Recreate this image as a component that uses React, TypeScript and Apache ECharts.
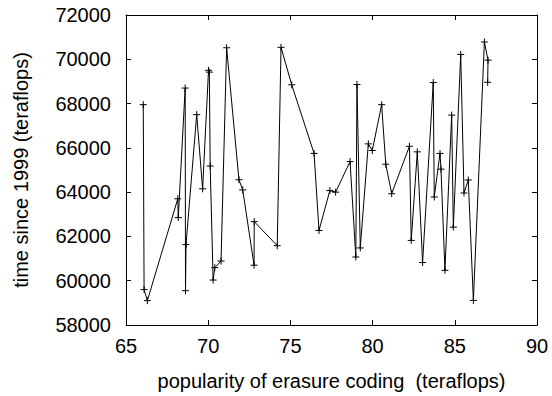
import React, { useEffect, useRef } from "react";
import * as echarts from "echarts";

const xValues = [
  66.05, 66.1, 66.3, 68.15, 68.18, 68.6, 68.62, 68.65, 69.3, 69.66,
  70.02, 70.07, 70.12, 70.3, 70.4, 70.78, 71.12, 71.87, 72.1, 72.79,
  72.8, 74.2, 74.43, 75.08, 76.44, 76.74, 77.4, 77.75, 78.63, 78.98,
  79.05, 79.25, 79.74, 79.98, 80.55, 80.8, 81.16, 82.24, 82.35, 82.72,
  83.04, 83.69, 83.75, 84.1, 84.16, 84.4, 84.81, 84.91, 85.36, 85.56,
  85.82, 86.13, 86.8, 87.02, 87.0,
];
const yValues = [
  67950, 59600, 59100, 63700, 62850, 68700, 59550, 61630, 67500, 64150,
  69500, 69420, 65180, 60030, 60590, 60890, 70520, 64560, 64100, 60700,
  62670, 61580, 70540, 68850, 65750, 62270, 64070, 64000, 65380, 61070,
  68860, 61480, 66180, 65880, 67950, 65260, 63930, 66070, 61820, 65820,
  60820, 68950, 63780, 65750, 65040, 60470, 67480, 62420, 70220, 63960,
  64550, 59110, 70780, 69960, 68960,
];

const xTitle = "popularity of erasure coding  (teraflops)";
const yTitle = "time since 1999 (teraflops)";

export default function App() {
  const ref = useRef<HTMLDivElement>(null);
  useEffect(() => {
    document.body.style.margin = "0";
    if (!ref.current) return;
    const chart = echarts.init(ref.current, undefined, { renderer: "svg" });
    const font = "'Liberation Sans', Arial, Helvetica, sans-serif";
    const axisCommon = {
      axisLine: { show: true, onZero: false, lineStyle: { color: "#000", width: 1 } },
      axisTick: { show: true, inside: true, length: 5, lineStyle: { color: "#000" } },
      splitLine: { show: false },
    };
    chart.setOption({
      animation: false,
      backgroundColor: "#fff",
      grid: { left: 126, right: 15, top: 15, bottom: 66, containLabel: false },
      xAxis: [
        {
          type: "value", min: 65, max: 90, interval: 5, position: "bottom",
          ...axisCommon,
          axisLabel: { color: "#000", fontSize: 20, fontFamily: font, margin: 11 },
          name: xTitle, nameLocation: "middle", nameGap: 46,
          nameTextStyle: { color: "#000", fontSize: 20, fontFamily: font },
        },
        {
          type: "value", min: 65, max: 90, interval: 5, position: "top",
          ...axisCommon, axisLabel: { show: false },
        },
      ],
      yAxis: [
        {
          type: "value", min: 58000, max: 72000, interval: 2000, position: "left",
          ...axisCommon,
          axisLabel: {
            color: "#000", fontSize: 20, fontFamily: font, margin: 15,
            formatter: (v: number) => String(v),
          },
          name: yTitle, nameLocation: "middle", nameGap: 95,
          nameTextStyle: { color: "#000", fontSize: 20, fontFamily: font },
        },
        {
          type: "value", min: 58000, max: 72000, interval: 2000, position: "right",
          ...axisCommon, axisLabel: { show: false },
        },
      ],
      series: [
        {
          type: "line",
          data: xValues.map((x, i) => [x, yValues[i]]),
          symbol: "path://M0,5L10,5M5,0L5,10",
          symbolSize: 7,
          showSymbol: true,
          lineStyle: { color: "#000", width: 1 },
          itemStyle: { color: "none", borderColor: "#000", borderWidth: 1 },
        },
      ],
    });
    return () => chart.dispose();
  }, []);
  return <div ref={ref} style={{ width: 552, height: 396 }} />;
}
